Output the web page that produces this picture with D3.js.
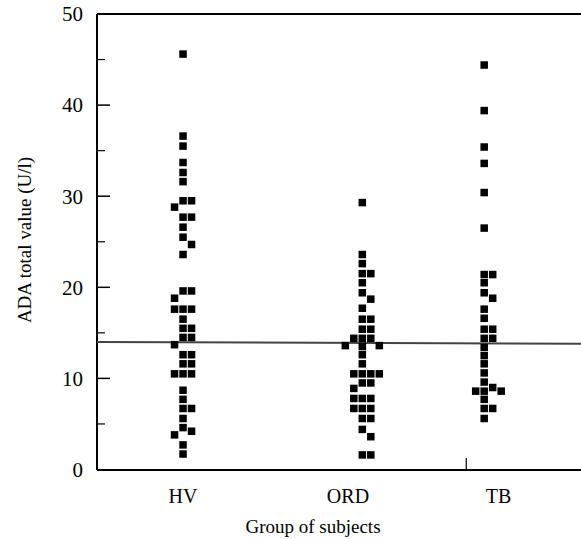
<!DOCTYPE html>
<html>
<head>
<meta charset="utf-8">
<script src="https://cdn.jsdelivr.net/npm/d3@7"></script>
<style>
  body { margin: 0; background: #fff; }
  text { font-family: "Liberation Serif", "Times New Roman", serif; fill: #000; }
</style>
</head>
<body>
<svg id="chart" width="581" height="539"></svg>
<script>
// groups on the x axis (numeric positions as in the original plot)
const groups = ['HV', 'ORD', 'TB'];
const groupPos = [1, 2, 2.68];
const groupLabelPos = [1, 1.92, 2.76];
const boundaryTicks = [2.58];

// ADA total values (U/l)
const hvValues = [45.6, 36.6, 35.5, 33.7, 32.6, 31.6, 29.5, 29.5, 28.8, 27.7, 27.7, 26.6, 25.5,
  24.7, 23.6, 19.6, 19.6, 18.8, 17.6, 17.6, 17.6, 16.5, 15.5, 15.5, 14.5, 14.5, 13.7, 12.6,
  12.6, 11.6, 11.6, 10.5, 10.5, 10.5, 8.7, 7.7, 6.7, 6.7, 5.6, 4.6, 4.2, 3.8, 2.7, 1.7];
const ordValues = [29.3, 23.6, 22.6, 21.5, 21.5, 20.5, 19.4, 18.7, 17.7, 16.5, 16.5, 15.4, 15.4,
  14.4, 14.4, 14.4, 13.6, 13.6, 13.5, 12.6, 11.6, 10.5, 10.5, 10.5, 10.5, 9.5, 9.5, 8.9,
  7.8, 7.8, 7.8, 6.7, 6.7, 6.7, 5.6, 5.6, 4.4, 3.6, 1.6, 1.6];
const tbValues = [44.4, 39.4, 35.4, 33.6, 30.4, 26.5, 21.4, 21.4, 20.5, 19.4, 18.8, 17.6, 16.6,
  15.4, 15.4, 14.4, 14.4, 13.4, 12.5, 11.6, 10.6, 9.6, 9.0, 8.6, 8.6, 8.6, 7.7, 6.7, 6.7, 5.6];

// cut-off line, value at left and right end
const cutoff = [14.0, 13.8];

const yTicksMajor = [0, 10, 20, 30, 40, 50];
const yTicksMinor = [5, 15, 25, 35, 45];

const svg = d3.select('#chart');
const plotLeft = 97, plotRight = 581, plotTop = 14, plotBottom = 470;
const markSize = 7.5;

const x = d3.scaleLinear().domain([0.52, 3.22]).range([plotLeft, plotRight]);
const y = d3.scaleLinear().domain([0, 50]).range([plotBottom - 0.5, plotTop]);

// simple dodge so that close values sit side by side
function dodge(values, cx) {
  const placed = [];
  const step = markSize + 1;
  values.slice().sort((a, b) => b - a).forEach(v => {
    const py = y(v);
    for (let k = 0; k < 20; k++) {
      const slot = k === 0 ? 0 : (k % 2 ? (k + 1) / 2 : -k / 2);
      const hit = placed.some(p => p.slot === slot && Math.abs(p.y - py) < markSize);
      if (!hit) { placed.push({ v, slot, y: py, x: cx + slot * step }); break; }
    }
  });
  return placed;
}

const allValues = [hvValues, ordValues, tbValues];
const points = allValues.flatMap((vals, i) => dodge(vals, x(groupPos[i])));

// frame: left axis, top and bottom lines
svg.append('line').attr('x1', plotLeft).attr('x2', plotLeft).attr('y1', plotTop).attr('y2', plotBottom)
  .attr('stroke', '#000').attr('stroke-width', 2);
svg.append('line').attr('x1', plotLeft).attr('x2', plotRight).attr('y1', plotTop).attr('y2', plotTop)
  .attr('stroke', '#000').attr('stroke-width', 2);
svg.append('line').attr('x1', plotLeft).attr('x2', plotRight).attr('y1', plotBottom).attr('y2', plotBottom)
  .attr('stroke', '#000').attr('stroke-width', 2);

// y ticks point inwards
const yAxis = svg.append('g');
yAxis.selectAll('line.major').data(yTicksMajor.filter(d => d > 0 && d < 50)).join('line')
  .attr('class', 'major')
  .attr('x1', plotLeft).attr('x2', plotLeft + 13)
  .attr('y1', d => y(d)).attr('y2', d => y(d))
  .attr('stroke', '#000').attr('stroke-width', 1.5);
yAxis.selectAll('line.minor').data(yTicksMinor).join('line')
  .attr('class', 'minor')
  .attr('x1', plotLeft).attr('x2', plotLeft + 8)
  .attr('y1', d => y(d)).attr('y2', d => y(d))
  .attr('stroke', '#000').attr('stroke-width', 1.2);
yAxis.selectAll('text').data(yTicksMajor).join('text')
  .attr('x', 83).attr('y', d => y(d)).attr('dy', '0.35em')
  .attr('text-anchor', 'end').style('font-size', '21px')
  .text(d => d);

// x boundary tick
svg.selectAll('line.xtick').data(boundaryTicks).join('line')
  .attr('class', 'xtick')
  .attr('x1', d => x(d)).attr('x2', d => x(d))
  .attr('y1', plotBottom).attr('y2', plotBottom - 12)
  .attr('stroke', '#000').attr('stroke-width', 1.2);

// group labels
svg.selectAll('text.group').data(groups).join('text')
  .attr('class', 'group')
  .attr('x', (d, i) => x(groupLabelPos[i])).attr('y', 503)
  .attr('text-anchor', 'middle').style('font-size', '20px')
  .text(d => d);

// axis titles
svg.append('text').attr('x', 313).attr('y', 533)
  .attr('text-anchor', 'middle').style('font-size', '19px')
  .text('Group of subjects');
svg.append('text').attr('transform', 'translate(31, 240) rotate(-90)')
  .attr('text-anchor', 'middle').style('font-size', '19px')
  .text('ADA total value (U/l)');

// cut-off line
svg.append('line')
  .attr('x1', plotLeft).attr('x2', plotRight)
  .attr('y1', y(cutoff[0])).attr('y2', y(cutoff[1]))
  .attr('stroke', '#444').attr('stroke-width', 2);

// data squares
svg.append('g').selectAll('rect').data(points).join('rect')
  .attr('x', d => d.x - markSize / 2)
  .attr('y', d => d.y - markSize / 2)
  .attr('width', markSize).attr('height', markSize)
  .attr('fill', '#000');
</script>
</body>
</html>
